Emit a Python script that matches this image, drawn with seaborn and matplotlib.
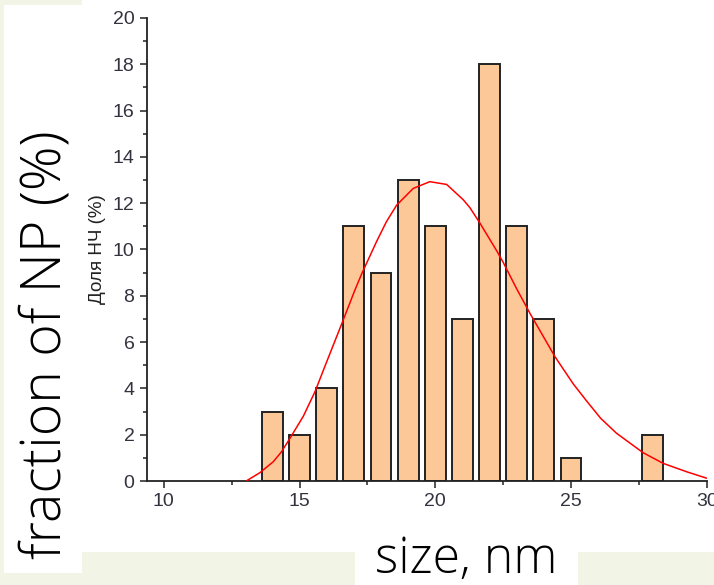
import numpy as np
import pandas as pd
import seaborn as sns
import matplotlib.pyplot as plt
from matplotlib.patches import Rectangle
from matplotlib.ticker import MultipleLocator

# данные гистограммы (размер НЧ, нм -> доля, %)
sizes = [14, 15, 16, 17, 18, 19, 20, 21, 22, 23, 24, 25, 28]
fractions = [3, 2, 4, 11, 9, 13, 11, 7, 18, 11, 7, 1, 2]

# точки кривой аппроксимации
fit_x = [13.05, 13.54, 14.03, 14.34, 14.65, 15.14, 15.57, 16.0, 16.49, 17.04,
         17.29, 17.84, 18.2, 18.58, 19.19, 19.80, 20.42, 21.03, 21.28, 21.64,
         22.26, 22.50, 23.0, 23.49, 24.41, 25.08, 25.58, 26.1, 26.68, 27.66,
         28.40, 29.26, 30.0]
fit_y = [0.01, 0.36, 0.83, 1.27, 1.85, 2.8, 3.86, 5.15, 6.60, 8.25,
         8.95, 10.35, 11.2, 11.92, 12.64, 12.93, 12.81, 12.15, 11.8, 11.15,
         9.95, 9.45, 8.3, 7.24, 5.37, 4.2, 3.45, 2.7, 2.06, 1.22,
         0.76, 0.40, 0.12]

x_ticks = [10, 15, 20, 25, 30]
y_ticks = [0, 2, 4, 6, 8, 10, 12, 14, 16, 18, 20]

hist = pd.DataFrame({'size': sizes, 'fraction': fractions})
fit = pd.DataFrame({'x': fit_x, 'y': fit_y})

sns.set_style('ticks')
plt.rcParams['font.family'] = ['Liberation Sans', 'DejaVu Sans']

W, H = 714, 585
fig = plt.figure(figsize=(W / 100, H / 100), dpi=100)
fig.patch.set_facecolor('#f2f4e6')

# подложки (белые области слайда)
fig.patches.append(Rectangle((82 / W, 33 / H), 1, 1, transform=fig.transFigure,
                             facecolor='white', edgecolor='none', zorder=-3))
fig.patches.append(Rectangle((4 / W, 12 / H), 78 / W, 568 / H, transform=fig.transFigure,
                             facecolor='white', edgecolor='none', zorder=-3))
fig.patches.append(Rectangle((355 / W, 0), 223 / W, 60 / H, transform=fig.transFigure,
                             facecolor='white', edgecolor='none', zorder=-3))

ax = fig.add_axes([147 / W, 104 / H, (706.7 - 147) / W, 463 / H])
ax.set_facecolor('none')

sns.barplot(data=hist, x='size', y='fraction', native_scale=True, width=0.77,
            color='#fdc898', saturation=1, edgecolor='#222222', linewidth=1.4,
            errorbar=None, ax=ax, zorder=2)
sns.lineplot(data=fit, x='x', y='y', color='#ff0000', linewidth=1.1, ax=ax, zorder=3)

ax.set_xlim(9.38, 30.0)
ax.set_ylim(0, 20)
ax.set_xticks(x_ticks)
ax.set_yticks(y_ticks)
ax.xaxis.set_minor_locator(MultipleLocator(2.5))
ax.yaxis.set_minor_locator(MultipleLocator(1))
ax.tick_params(which='major', direction='out', length=5, width=1.1, color='#222222',
               labelsize=11, labelcolor='#33333f', pad=4)
ax.tick_params(which='minor', direction='out', length=3, width=1.1, color='#222222')
for lab in ax.get_xticklabels() + ax.get_yticklabels():
    lab.set_family(['Liberation Sans Narrow', 'Liberation Sans'])
    lab.set_fontsize(14)
sns.despine(ax=ax)
for s in ['left', 'bottom']:
    ax.spines[s].set_linewidth(1.3)
    ax.spines[s].set_color('#222222')

ax.set_xlabel('')
ax.set_ylabel('Доля НЧ (%)', fontsize=13.5, color='#222222', labelpad=5)

# подписи слайда
fig.text(46 / W, 1 - 345 / H, 'fraction of NP (%)', rotation=90, ha='center', va='center',
         fontsize=40, family=['Open Sans', 'DejaVu Sans'], fontweight='light', color='#000000')
fig.text(466 / W, 1 - 573 / H, 'size, nm', ha='center', va='baseline',
         fontsize=36, family=['Open Sans', 'DejaVu Sans'], fontweight='light', color='#000000')

fig.savefig('out.png', dpi=100)
